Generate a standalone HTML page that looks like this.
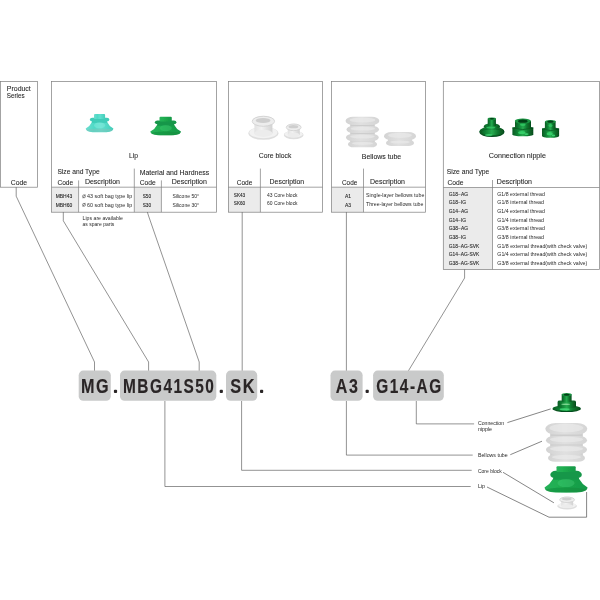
<!DOCTYPE html>
<html><head><meta charset="utf-8">
<style>
html,body{margin:0;padding:0;background:#fff;}
body{width:600px;height:600px;overflow:hidden;font-family:"Liberation Sans",sans-serif;}
svg{display:block;}
text{font-family:"Liberation Sans",sans-serif;fill:#333;}
.bx{fill:none;stroke:#808080;stroke-width:0.72;}
.ln{fill:none;stroke:#4a4a4a;stroke-width:0.6;}
.pt{fill:none;stroke:#444;stroke-width:0.65;}
.g{fill:#ebebeb;}
.h{font-size:6.8px;fill:#262626;stroke:#262626;stroke-width:0.07;}
.s{font-size:4.9px;fill:#2a2a2a;}
.b{font-size:4.9px;fill:#1e1e1e;stroke:#1e1e1e;stroke-width:0.09;}
.pill{fill:#c9caca;}
.big{font-size:19.6px;font-weight:bold;fill:#2a2526;stroke:#2a2526;stroke-width:0.15;letter-spacing:1.9px;}
.lb{font-size:5px;fill:#2a2a2a;}
</style></head><body>
<svg width="600" height="600" viewBox="0 0 600 600">
<rect width="600" height="600" fill="#fff"/>
<defs><filter id="tb" x="0" y="0" width="100%" height="100%" filterUnits="userSpaceOnUse"><feGaussianBlur stdDeviation="0.28"/></filter>
<filter id="tb2" x="0" y="0" width="600" height="600" filterUnits="userSpaceOnUse"><feGaussianBlur stdDeviation="0.3"/></filter></defs>
<!-- gray cells -->
<rect class="g" x="51.6" y="187.2" width="27" height="25"/>
<rect class="g" x="134.3" y="187.2" width="27" height="25"/>
<rect class="g" x="228.4" y="187.2" width="32" height="25"/>
<rect class="g" x="331.6" y="187.2" width="31.9" height="25"/>
<rect class="g" x="443.3" y="187.5" width="49.2" height="81.9"/>
<defs>
<filter id="bl" x="-20%" y="-20%" width="140%" height="140%"><feGaussianBlur stdDeviation="0.45"/></filter>
<filter id="bl2" x="-20%" y="-20%" width="140%" height="140%"><feGaussianBlur stdDeviation="0.7"/></filter>
<linearGradient id="teal" x1="0" x2="1" y1="0" y2="0"><stop offset="0" stop-color="#6fdccf"/><stop offset="0.3" stop-color="#4fdac6"/><stop offset="0.55" stop-color="#5fe0cf"/><stop offset="1" stop-color="#45cdb9"/></linearGradient>
<linearGradient id="grn" x1="0" x2="1" y1="0" y2="0"><stop offset="0" stop-color="#27b25a"/><stop offset="0.35" stop-color="#1fae50"/><stop offset="0.6" stop-color="#1aa34a"/><stop offset="1" stop-color="#17994a"/></linearGradient>
<linearGradient id="wh" x1="0" x2="1" y1="0" y2="0"><stop offset="0" stop-color="#e2e2e2"/><stop offset="0.4" stop-color="#f2f2f2"/><stop offset="1" stop-color="#d2d2d2"/></linearGradient>
<linearGradient id="bel" x1="0" x2="1" y1="0" y2="0"><stop offset="0" stop-color="#d3d3d3"/><stop offset="0.45" stop-color="#e0e0e0"/><stop offset="1" stop-color="#d5d5d5"/></linearGradient>
<linearGradient id="nip" x1="0" x2="1" y1="0" y2="0"><stop offset="0" stop-color="#075a22"/><stop offset="0.28" stop-color="#138838"/><stop offset="0.5" stop-color="#27ab50"/><stop offset="0.72" stop-color="#0f7d31"/><stop offset="1" stop-color="#054a1b"/></linearGradient>
</defs>

<g filter="url(#bl2)"><path d="M91.9 121.9Q90.0 126.1 85.7 128.6Q85.7 131.5 92.6 132.3L106.5 132.3Q113.4 131.5 113.4 128.6Q109.1 126.1 107.2 121.9Z" fill="url(#teal)"/><ellipse cx="99.6" cy="130.3" rx="13.0" ry="1.8" fill="#7cc4ba" opacity="0.55"/><rect x="89.9" y="117.7" width="19.4" height="3.7" rx="2.3" ry="1.9" fill="#40ccb8"/><rect x="91.9" y="120.8" width="15.2" height="2.1" fill="#40ccb8"/><rect x="94.0" y="114.0" width="11.1" height="4.9" rx="1" fill="url(#teal)"/><ellipse cx="99.6" cy="125.3" rx="5.5" ry="3.0" fill="#9af0e4" opacity="0.35"/></g>
<g filter="url(#bl2)"><path d="M157.2 124.7Q155.1 129.0 150.3 131.6Q150.3 134.5 158.0 135.3L173.3 135.3Q181.0 134.5 181.0 131.6Q176.2 129.0 174.1 124.7Z" fill="url(#grn)"/><ellipse cx="165.7" cy="133.3" rx="14.4" ry="1.9" fill="#128a3d" opacity="0.55"/><rect x="154.9" y="120.4" width="21.5" height="3.8" rx="2.4" ry="1.9" fill="#17974a"/><rect x="157.2" y="123.6" width="16.9" height="2.1" fill="#17974a"/><rect x="159.5" y="116.7" width="12.3" height="4.9" rx="1" fill="url(#grn)"/><ellipse cx="165.7" cy="128.1" rx="6.1" ry="3.1" fill="#48d07a" opacity="0.35"/></g>
<g filter="url(#bl2)"><path d="M553.1 478.7Q550.1 484.2 544.5 487.6Q544.5 491.8 555.3 492.6L576.8 492.6Q587.6 491.8 587.6 487.6Q582.0 484.2 579.0 478.7Z" fill="url(#grn)"/><ellipse cx="566.0" cy="489.9" rx="20.3" ry="2.5" fill="#128a3d" opacity="0.55"/><rect x="550.3" y="470.8" width="31.5" height="7.7" rx="5.3" ry="3.9" fill="#17974a"/><rect x="553.1" y="477.9" width="25.9" height="1.8" fill="#17974a"/><rect x="556.5" y="466.3" width="19.2" height="5.7" rx="1" fill="url(#grn)"/><ellipse cx="566.0" cy="483.1" rx="8.6" ry="4.0" fill="#48d07a" opacity="0.35"/></g>
<g filter="url(#bl2)" opacity="1.0"><ellipse cx="263.4" cy="133.3" rx="15.0" ry="6.5" fill="#dedede"/><ellipse cx="263.4" cy="132.5" rx="14.0" ry="5.7" fill="#f2f2f2"/><rect x="254.4" y="120.8" width="18.0" height="12.5" fill="url(#wh)"/><ellipse cx="263.4" cy="133.3" rx="9.0" ry="3.6" fill="#ececec"/><ellipse cx="263.4" cy="120.8" rx="11.2" ry="5.0" fill="#ededed"/><ellipse cx="263.4" cy="121.3" rx="11.2" ry="5.0" fill="none" stroke="#d2d2d2" stroke-width="0.9"/><ellipse cx="263.1" cy="120.6" rx="7.4" ry="2.5" fill="#cecece"/></g>
<g filter="url(#bl2)" opacity="1.0"><ellipse cx="293.7" cy="135.0" rx="9.9" ry="4.2" fill="#dedede"/><ellipse cx="293.7" cy="134.2" rx="8.9" ry="3.4" fill="#f2f2f2"/><rect x="287.8" y="126.9" width="11.9" height="8.1" fill="url(#wh)"/><ellipse cx="293.7" cy="135.0" rx="5.9" ry="2.3" fill="#ececec"/><ellipse cx="293.7" cy="126.9" rx="7.4" ry="3.3" fill="#ededed"/><ellipse cx="293.7" cy="127.4" rx="7.4" ry="3.3" fill="none" stroke="#d2d2d2" stroke-width="0.9"/><ellipse cx="293.4" cy="126.7" rx="4.9" ry="1.6" fill="#cecece"/></g>
<g filter="url(#bl2)" opacity="1.0"><ellipse cx="567.1" cy="506.1" rx="9.9" ry="3.5" fill="#dedede"/><ellipse cx="567.1" cy="505.3" rx="8.9" ry="2.7" fill="#f2f2f2"/><rect x="561.2" y="499.3" width="11.9" height="6.8" fill="url(#wh)"/><ellipse cx="567.1" cy="506.1" rx="5.9" ry="1.9" fill="#ececec"/><ellipse cx="567.1" cy="499.3" rx="7.4" ry="2.7" fill="#ededed"/><ellipse cx="567.1" cy="499.8" rx="7.4" ry="2.7" fill="none" stroke="#d2d2d2" stroke-width="0.9"/><ellipse cx="566.8" cy="499.1" rx="4.9" ry="1.4" fill="#cecece"/></g>
<g filter="url(#bl2)"><rect x="350.2" y="118.7" width="24.6" height="26.6" fill="#cdcdcd"/><rect x="345.6" y="116.7" width="33.7" height="8.3" rx="7.5" ry="4.1" fill="url(#bel)"/><ellipse cx="362.5" cy="120.0" rx="12.8" ry="2.5" fill="#e9e9e9" opacity="0.7"/><rect x="346.5" y="126.0" width="32.5" height="7.0" rx="6.3" ry="3.5" fill="url(#bel)"/><ellipse cx="362.8" cy="128.7" rx="12.2" ry="1.9" fill="#e9e9e9" opacity="0.7"/><rect x="346.0" y="134.0" width="32.7" height="6.9" rx="6.2" ry="3.5" fill="url(#bel)"/><ellipse cx="362.4" cy="136.6" rx="12.3" ry="1.9" fill="#e9e9e9" opacity="0.7"/><rect x="348.0" y="141.2" width="29.0" height="6.1" rx="5.5" ry="3.1" fill="url(#bel)"/><ellipse cx="362.5" cy="143.4" rx="10.5" ry="1.5" fill="#e9e9e9" opacity="0.7"/></g>
<g filter="url(#bl2)"><rect x="388.2" y="134.0" width="23.6" height="10.0" fill="#cdcdcd"/><rect x="384.0" y="132.0" width="32.0" height="8.3" rx="7.5" ry="4.2" fill="url(#bel)"/><ellipse cx="400.0" cy="135.3" rx="12.0" ry="2.6" fill="#e9e9e9" opacity="0.7"/><rect x="386.0" y="139.8" width="28.0" height="6.2" rx="5.6" ry="3.1" fill="url(#bel)"/><ellipse cx="400.0" cy="142.1" rx="10.0" ry="1.5" fill="#e9e9e9" opacity="0.7"/></g>
<g filter="url(#bl2)"><rect x="550.2" y="425.0" width="32.6" height="34.8" fill="#cdcdcd"/><rect x="545.3" y="423.0" width="42.0" height="11.6" rx="10.4" ry="5.8" fill="url(#bel)"/><ellipse cx="566.3" cy="428.0" rx="17.0" ry="4.2" fill="#e9e9e9" opacity="0.7"/><rect x="546.0" y="436.0" width="41.0" height="8.6" rx="7.7" ry="4.3" fill="url(#bel)"/><ellipse cx="566.5" cy="439.5" rx="16.5" ry="2.7" fill="#e9e9e9" opacity="0.7"/><rect x="546.0" y="445.4" width="41.0" height="8.5" rx="7.7" ry="4.2" fill="url(#bel)"/><ellipse cx="566.5" cy="448.8" rx="16.5" ry="2.6" fill="#e9e9e9" opacity="0.7"/><rect x="548.0" y="454.0" width="37.0" height="7.8" rx="7.0" ry="3.9" fill="url(#bel)"/><ellipse cx="566.5" cy="457.1" rx="14.5" ry="2.3" fill="#e9e9e9" opacity="0.7"/></g>
<g filter="url(#bl)"><ellipse cx="491.9" cy="132.1" rx="12.5" ry="5.0" fill="#064d1c"/><ellipse cx="491.9" cy="131.2" rx="12.2" ry="4.5" fill="url(#nip)"/><ellipse cx="491.9" cy="132.2" rx="10.9" ry="3.5" fill="none" stroke="#075a22" stroke-width="0.9" opacity="0.75"/><path d="M487.8 123.8Q483.6 124.4 483.6 127.4Q491.9 130.4 500.1 127.4Q500.1 124.4 496.0 123.8Z" fill="url(#nip)"/><ellipse cx="490.8" cy="127.6" rx="4.5" ry="0.9" fill="#34c765" opacity="0.8"/><ellipse cx="488.7" cy="135.0" rx="3.8" ry="0.8" fill="#43e07a" opacity="0.9"/><rect x="487.7" y="118.6" width="8.2" height="7.4" fill="url(#nip)"/><ellipse cx="491.9" cy="118.7" rx="4.1" ry="1.3" fill="#1a9442"/><ellipse cx="491.9" cy="118.8" rx="2.5" ry="0.8" fill="#053f17"/></g>
<g filter="url(#bl)"><path d="M512.4 127.5V134.3Q512.4 136.3 522.8 136.3Q533.3 136.3 533.3 134.3V127.5Q522.8 124.5 512.4 127.5Z" fill="url(#nip)"/><path d="M512.4 128.0Q522.8 131.0 533.3 128.0" fill="none" stroke="#064d1c" stroke-width="0.9" opacity="0.8"/><ellipse cx="521.8" cy="132.5" rx="3.7" ry="1.6" fill="#38d66c" opacity="0.85"/><ellipse cx="526.5" cy="134.1" rx="2.1" ry="0.9" fill="#43e07a" opacity="0.8"/><rect x="515.0" y="120.8" width="16.0" height="7.2" rx="0.8" fill="url(#nip)"/><ellipse cx="522.8" cy="124.6" rx="2.8" ry="1.5" fill="#35d068" opacity="0.7"/><ellipse cx="522.8" cy="121.1" rx="8.0" ry="2.6" fill="#1a9442"/><ellipse cx="522.8" cy="121.2" rx="4.8" ry="1.6" fill="#053f17"/></g>
<g filter="url(#bl)"><path d="M542.0 128.5V135.7Q542.0 137.7 550.5 137.7Q559.1 137.7 559.1 135.7V128.5Q550.5 125.5 542.0 128.5Z" fill="url(#nip)"/><path d="M542.0 129.0Q550.5 132.0 559.1 129.0" fill="none" stroke="#064d1c" stroke-width="0.9" opacity="0.8"/><ellipse cx="549.7" cy="133.7" rx="3.0" ry="1.6" fill="#38d66c" opacity="0.85"/><ellipse cx="553.5" cy="135.5" rx="1.7" ry="0.9" fill="#43e07a" opacity="0.8"/><rect x="544.9" y="121.3" width="10.7" height="7.7" rx="0.8" fill="url(#nip)"/><ellipse cx="550.5" cy="125.4" rx="1.9" ry="1.5" fill="#35d068" opacity="0.7"/><ellipse cx="550.5" cy="121.6" rx="5.4" ry="1.7" fill="#1a9442"/><ellipse cx="550.5" cy="121.7" rx="3.2" ry="1.1" fill="#053f17"/></g>
<g filter="url(#bl)"><ellipse cx="566.7" cy="409.1" rx="14.2" ry="2.9" fill="#064d1c"/><ellipse cx="566.7" cy="408.2" rx="14" ry="2.8" fill="url(#nip)"/><path d="M557.6 402Q557.6 400.6 560 400.6H573.6Q576 400.6 576 402V407.2Q566.7 409.6 557.6 407.2Z" fill="url(#nip)"/><ellipse cx="565.7" cy="404.3" rx="4.5" ry="0.8" fill="#9be8a8" opacity="0.75"/><ellipse cx="564.7" cy="409.2" rx="5" ry="1" fill="#46e07c" opacity="0.8"/><rect x="561.7" y="394.4" width="9.9" height="7.4" fill="url(#nip)"/><ellipse cx="566.7" cy="394.6" rx="5.0" ry="1.6" fill="#1a9442"/><ellipse cx="566.7" cy="394.7" rx="3.0" ry="1.0" fill="#053f17"/></g>
<!-- boxes -->
<rect class="bx" x="0.5" y="81.5" width="37" height="105.7"/>
<rect class="bx" x="51.6" y="81.5" width="164.8" height="130.7"/>
<rect class="bx" x="228.4" y="81.5" width="94.1" height="130.7"/>
<rect class="bx" x="331.6" y="81.5" width="93.8" height="130.7"/>
<rect class="bx" x="443.3" y="81.5" width="156.3" height="187.9"/>
<!-- table lines -->
<path class="bx" d="M51.6 187.2H216.4M78.6 180.4V212.2M134.3 168.6V212.2M161.4 180.4V212.2"/>
<path class="bx" d="M228.4 187.2H322.5M260.4 168.6V212.2"/>
<path class="bx" d="M331.6 187.2H425.4M363.5 168.6V212.2"/>
<path class="bx" d="M443.3 187.5H599.6M492.5 180V269.4"/>
<!-- connector lines -->
<path class="ln" d="M16.2 187.2V196.2L94.5 362V371"/>
<path class="ln" d="M63.3 212.2V220.8L148.6 362V371"/>
<path class="ln" d="M147.4 212.2L148.6 216L199.2 362V371"/>
<path class="ln" d="M242.2 212.2V371M241.6 401V470.3H471.7"/>
<path class="ln" d="M346.4 212.2V371M346.4 401V455.1H472.7"/>
<path class="ln" d="M464.6 269.4V278L408.3 371"/>
<path class="ln" d="M416.3 401V423.9H474.1"/>
<path class="ln" d="M164.9 401V486.5H470.7"/>
<!-- pills -->
<g filter="url(#tb2)">
<rect class="pill" x="78.7" y="370.6" width="32.1" height="30.2" rx="4.6"/>
<rect class="pill" x="120" y="370.6" width="96.3" height="30.2" rx="4.6"/>
<rect class="pill" x="226" y="370.6" width="31.2" height="30.2" rx="4.6"/>
<rect class="pill" x="330.5" y="370.6" width="32.1" height="30.2" rx="4.6"/>
<rect class="pill" x="373.1" y="370.6" width="70.7" height="30.2" rx="4.6"/>
<text class="big" x="80.9" y="393" textLength="29.2" lengthAdjust="spacingAndGlyphs">MG</text>
<text class="big" x="123" y="393" textLength="92.4" lengthAdjust="spacingAndGlyphs">MBG41S50</text>
<text class="big" x="230.2" y="393" textLength="25.8" lengthAdjust="spacingAndGlyphs">SK</text>
<text class="big" x="335.8" y="393" textLength="23.6" lengthAdjust="spacingAndGlyphs">A3</text>
<text class="big" x="376.3" y="393" textLength="66.4" lengthAdjust="spacingAndGlyphs">G14-AG</text>
<rect x="113.9" y="389.8" width="3.2" height="3.2" rx="0.9" fill="#2a2526"/>
<rect x="219.7" y="389.8" width="3.2" height="3.2" rx="0.9" fill="#2a2526"/>
<rect x="260" y="389.8" width="3.2" height="3.2" rx="0.9" fill="#2a2526"/>
<rect x="365.6" y="389.8" width="3.2" height="3.2" rx="0.9" fill="#2a2526"/>
</g>
<!-- texts -->
<g filter="url(#tb)">
<text class="h" x="6.8" y="90.9" textLength="24.0" lengthAdjust="spacingAndGlyphs">Product</text>
<text class="h" x="6.8" y="98.4" textLength="17.8" lengthAdjust="spacingAndGlyphs">Series</text>
<text class="h" x="10.8" y="184.8" textLength="16.3" lengthAdjust="spacingAndGlyphs">Code</text>
<text class="h" x="129.0" y="157.6" textLength="9.0" lengthAdjust="spacingAndGlyphs">Lip</text>
<text class="h" x="57.4" y="174.2" textLength="42.2" lengthAdjust="spacingAndGlyphs">Size and Type</text>
<text class="h" x="57.4" y="184.7" textLength="15.8" lengthAdjust="spacingAndGlyphs">Code</text>
<text class="h" x="84.9" y="183.5" textLength="35.1" lengthAdjust="spacingAndGlyphs">Description</text>
<text class="h" x="139.7" y="174.7" textLength="69.5" lengthAdjust="spacingAndGlyphs">Material and Hardness</text>
<text class="h" x="139.7" y="184.7" textLength="16.0" lengthAdjust="spacingAndGlyphs">Code</text>
<text class="h" x="171.7" y="183.5" textLength="35.2" lengthAdjust="spacingAndGlyphs">Description</text>
<text class="b" x="55.7" y="198.2" textLength="16.5" lengthAdjust="spacingAndGlyphs">MBH43</text>
<text class="b" x="55.7" y="206.7" textLength="16.5" lengthAdjust="spacingAndGlyphs">MBH60</text>
<text class="s" x="87.0" y="198.0" textLength="45.2" lengthAdjust="spacingAndGlyphs">43 soft bag type lip</text>
<text class="s" x="87.0" y="206.5" textLength="45.2" lengthAdjust="spacingAndGlyphs">60 soft bag type lip</text>
<text class="b" x="142.7" y="197.8" textLength="8.4" lengthAdjust="spacingAndGlyphs">S50</text>
<text class="b" x="142.7" y="206.5" textLength="8.4" lengthAdjust="spacingAndGlyphs">S30</text>
<text class="s" x="172.4" y="197.8" textLength="26.6" lengthAdjust="spacingAndGlyphs">Silicone 50°</text>
<text class="s" x="172.4" y="206.5" textLength="26.6" lengthAdjust="spacingAndGlyphs">Silicone 30°</text>
<text class="s" x="82.6" y="219.6" textLength="40.2" lengthAdjust="spacingAndGlyphs">Lips are available</text>
<text class="s" x="82.6" y="225.8" textLength="31.7" lengthAdjust="spacingAndGlyphs">as spare parts</text>
<text class="h" x="258.8" y="158.4" textLength="32.5" lengthAdjust="spacingAndGlyphs">Core block</text>
<text class="h" x="236.7" y="184.6" textLength="15.6" lengthAdjust="spacingAndGlyphs">Code</text>
<text class="h" x="269.6" y="183.6" textLength="34.6" lengthAdjust="spacingAndGlyphs">Description</text>
<text class="b" x="233.8" y="196.9" textLength="11.4" lengthAdjust="spacingAndGlyphs">SK43</text>
<text class="b" x="233.8" y="204.8" textLength="11.4" lengthAdjust="spacingAndGlyphs">SK60</text>
<text class="s" x="267.0" y="196.9" textLength="30.6" lengthAdjust="spacingAndGlyphs">43 Core block</text>
<text class="s" x="267.0" y="204.8" textLength="30.6" lengthAdjust="spacingAndGlyphs">60 Core block</text>
<text class="h" x="361.8" y="158.8" textLength="39.4" lengthAdjust="spacingAndGlyphs">Bellows tube</text>
<text class="h" x="342.0" y="184.7" textLength="15.3" lengthAdjust="spacingAndGlyphs">Code</text>
<text class="h" x="370.0" y="183.8" textLength="35.0" lengthAdjust="spacingAndGlyphs">Description</text>
<text class="b" x="345.0" y="197.6" textLength="6.1" lengthAdjust="spacingAndGlyphs">A1</text>
<text class="b" x="345.0" y="207.2" textLength="6.1" lengthAdjust="spacingAndGlyphs">A3</text>
<text class="s" x="366.0" y="196.9" textLength="58.3" lengthAdjust="spacingAndGlyphs">Single-layer bellows tube</text>
<text class="s" x="366.0" y="206.4" textLength="57.4" lengthAdjust="spacingAndGlyphs">Three-layer bellows tube</text>
<text class="h" x="488.8" y="158.3" textLength="57.1" lengthAdjust="spacingAndGlyphs">Connection nipple</text>
<text class="h" x="446.7" y="174.3" textLength="42.6" lengthAdjust="spacingAndGlyphs">Size and Type</text>
<text class="h" x="447.5" y="184.6" textLength="16.0" lengthAdjust="spacingAndGlyphs">Code</text>
<text class="h" x="496.8" y="183.7" textLength="35.2" lengthAdjust="spacingAndGlyphs">Description</text>
<text class="b" x="448.8" y="195.7" textLength="19.2" lengthAdjust="spacingAndGlyphs">G18−AG</text>
<text class="s" x="497.3" y="195.7" textLength="47.5" lengthAdjust="spacingAndGlyphs">G1/8 external thread</text>
<text class="b" x="448.8" y="204.4" textLength="17.3" lengthAdjust="spacingAndGlyphs">G18−IG</text>
<text class="s" x="497.3" y="204.4" textLength="46.7" lengthAdjust="spacingAndGlyphs">G1/8 internal thread</text>
<text class="b" x="448.8" y="213.0" textLength="19.2" lengthAdjust="spacingAndGlyphs">G14−AG</text>
<text class="s" x="497.3" y="213.0" textLength="47.5" lengthAdjust="spacingAndGlyphs">G1/4 external thread</text>
<text class="b" x="448.8" y="221.7" textLength="17.3" lengthAdjust="spacingAndGlyphs">G14−IG</text>
<text class="s" x="497.3" y="221.7" textLength="46.7" lengthAdjust="spacingAndGlyphs">G1/4 internal thread</text>
<text class="b" x="448.8" y="230.4" textLength="19.2" lengthAdjust="spacingAndGlyphs">G38−AG</text>
<text class="s" x="497.3" y="230.4" textLength="47.5" lengthAdjust="spacingAndGlyphs">G3/8 external thread</text>
<text class="b" x="448.8" y="239.0" textLength="17.3" lengthAdjust="spacingAndGlyphs">G38−IG</text>
<text class="s" x="497.3" y="239.0" textLength="46.7" lengthAdjust="spacingAndGlyphs">G3/8 internal thread</text>
<text class="b" x="448.8" y="247.7" textLength="30.4" lengthAdjust="spacingAndGlyphs">G18−AG-SVK</text>
<text class="s" x="497.3" y="247.7" textLength="89.9" lengthAdjust="spacingAndGlyphs">G1/8 external thread(with check valve)</text>
<text class="b" x="448.8" y="256.4" textLength="30.4" lengthAdjust="spacingAndGlyphs">G14−AG-SVK</text>
<text class="s" x="497.3" y="256.4" textLength="89.9" lengthAdjust="spacingAndGlyphs">G1/4 external thread(with check valve)</text>
<text class="b" x="448.8" y="265.0" textLength="30.4" lengthAdjust="spacingAndGlyphs">G38−AG-SVK</text>
<text class="s" x="497.3" y="265.0" textLength="89.9" lengthAdjust="spacingAndGlyphs">G3/8 external thread(with check valve)</text>
<text class="lb" x="477.9" y="424.8" textLength="26.2" lengthAdjust="spacingAndGlyphs">Connection</text>
<text class="lb" x="477.9" y="430.6" textLength="14.2" lengthAdjust="spacingAndGlyphs">nipple</text>
<text class="lb" x="477.9" y="457.0" textLength="29.8" lengthAdjust="spacingAndGlyphs">Bellows tube</text>
<text class="lb" x="477.9" y="472.8" textLength="24.0" lengthAdjust="spacingAndGlyphs">Core block</text>
<text class="lb" x="477.9" y="488.3" textLength="7.1" lengthAdjust="spacingAndGlyphs">Lip</text>
<g fill="none" stroke="#333" stroke-width="0.5"><circle cx="84" cy="196.3" r="1.5"/><path d="M82.7 198.2L85.3 194.4"/><circle cx="84" cy="204.8" r="1.5"/><path d="M82.7 206.7L85.3 202.9"/></g>
</g>
<!-- pointers -->
<path class="pt" d="M507.4 422.6L550.7 408.9"/>
<path class="pt" d="M510.3 454.7L542 441.2"/>
<path class="pt" d="M503 472.3L553.9 502.8"/>
<path class="pt" d="M487 487L549 517.2H586.6V492"/>
</svg>
</body></html>
